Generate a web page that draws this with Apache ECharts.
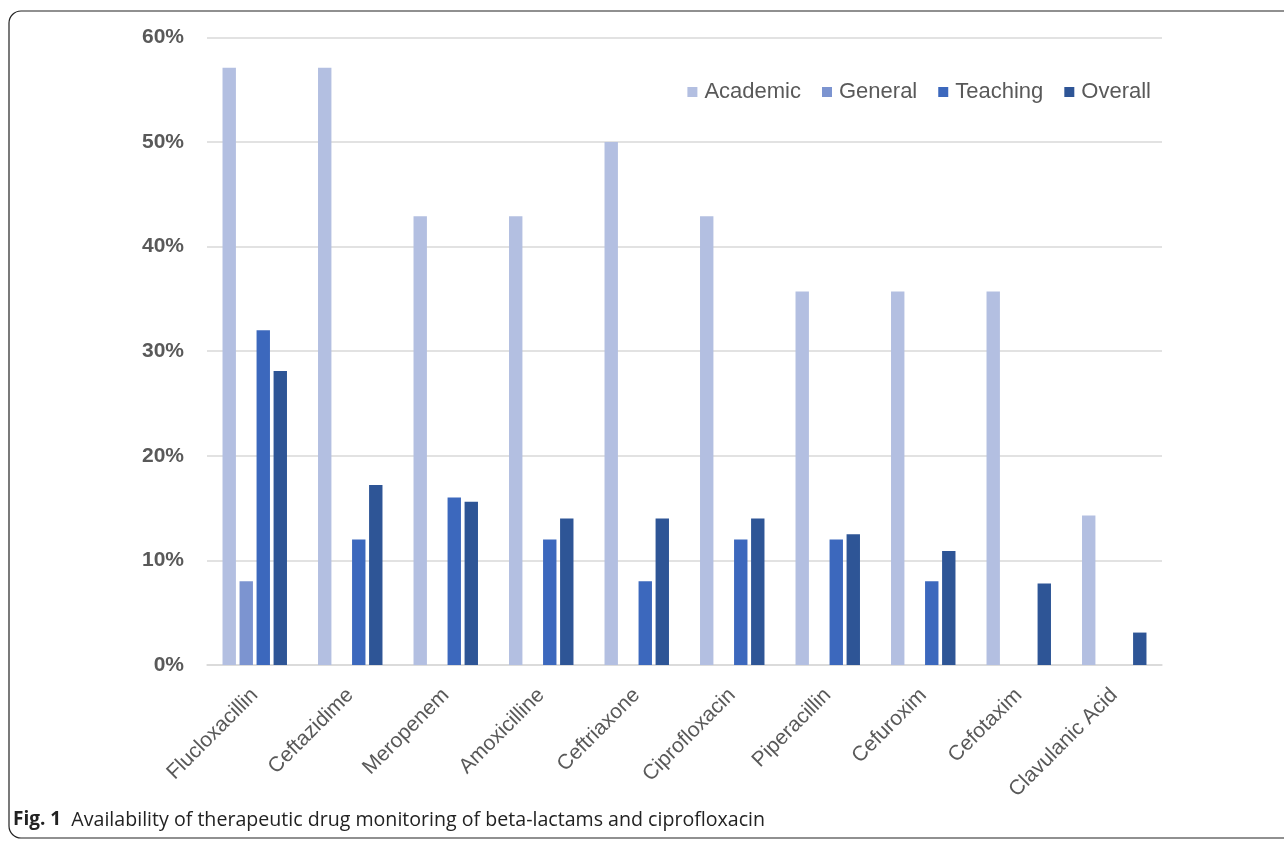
<!DOCTYPE html>
<html><head><meta charset="utf-8">
<script src="https://cdn.jsdelivr.net/npm/echarts@6/dist/echarts.min.js"></script>
<style>html,body{margin:0;padding:0;background:#fff}#c{width:1284px;height:841px}</style>
</head><body><div id="c"></div>
<script>
const categories = ['Flucloxacillin','Ceftazidime','Meropenem','Amoxicilline','Ceftriaxone','Ciprofloxacin','Piperacillin','Cefuroxim','Cefotaxim','Clavulanic Acid'];
const academic = [57.1, 57.1, 42.9, 42.9, 50.0, 42.9, 35.7, 35.7, 35.7, 14.3];
const general  = [8, 0, 0, 0, 0, 0, 0, 0, 0, 0];
const teaching = [32, 12, 16, 12, 8, 12, 12, 8, 0, 0];
const overall  = [28.1, 17.2, 15.6, 14.0, 14.0, 14.0, 12.5, 10.9, 7.8, 3.1];
const yTicks = [0, 10, 20, 30, 40, 50, 60];
const seriesNames = ['Academic','General','Teaching','Overall'];
const colors = ['#b3bfe1','#7c94d0','#3c68bd','#2e5596'];

const chart = echarts.init(document.getElementById('c'));
const mk = (name, data, i) => ({
  name, type: 'bar', data, barWidth: 13.4, barGap: '27%',
  itemStyle: { color: colors[i] }
});
chart.setOption({
  animation: false,
  color: colors,
  grid: { left: 207, right: 122, top: 37.3, bottom: 176 },
  legend: {
    data: seriesNames, top: 76, right: 128, itemWidth: 10, itemHeight: 10, itemGap: 21,
    icon: 'rect',
    textStyle: { fontFamily: 'Liberation Sans', fontSize: 22, color: '#595959', padding: [0,0,0,2] }
  },
  xAxis: {
    type: 'category', data: categories,
    axisLine: { lineStyle: { color: '#d9d9d9', width: 1.5 } },
    axisTick: { show: false },
    axisLabel: { rotate: 45, margin: 27, interval: 0, fontFamily: 'Liberation Sans', fontSize: 21, color: '#595959' }
  },
  yAxis: {
    type: 'value', min: 0, max: 60, interval: 10,
    axisLine: { show: false }, axisTick: { show: false },
    splitLine: { lineStyle: { color: '#d9d9d9', width: 1.5 } },
    axisLabel: { margin: 23, fontFamily: 'Liberation Sans', fontWeight: 'bold', fontSize: 21, color: '#595959',
      formatter: v => yTicks.includes(v) ? v + '%' : '' }
  },
  series: [mk(seriesNames[0], academic, 0), mk(seriesNames[1], general, 1), mk(seriesNames[2], teaching, 2), mk(seriesNames[3], overall, 3)],
  graphic: [
    { type: 'rect', shape: { x: 9, y: 11, width: 1400, height: 827, r: 12 }, style: { fill: 'none', stroke: '#222', lineWidth: 1.2 }, silent: true },
    { type: 'text', left: 13, top: 810, style: {
      text: '{b|Fig. 1}  Availability of therapeutic drug monitoring of beta-lactams and ciprofloxacin',
      font: '19.6px "Open Sans"', fill: '#222',
      rich: { b: { fontFamily: 'Open Sans', fontWeight: 'bold', fontSize: 19, fill: '#222' } }
    } }
  ]
});
</script></body></html>
